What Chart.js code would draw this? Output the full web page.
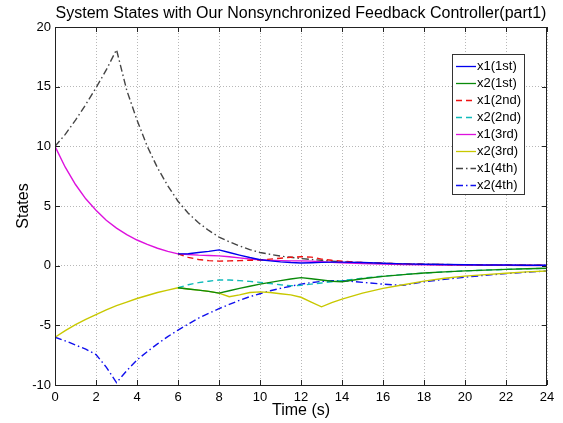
<!DOCTYPE html>
<html><head><meta charset="utf-8">
<script src="https://cdn.jsdelivr.net/npm/chart.js@4.4.1/dist/chart.umd.min.js"></script>
<style>html,body{margin:0;padding:0;background:#fff}</style>
</head><body>
<canvas id="c" width="563" height="423"></canvas>
<script>
const titleText = 'System States with Our Nonsynchronized Feedback Controller(part1)';
const xLabel = 'Time (s)';
const yLabel = 'States';
const seriesNames = ['x1(1st)','x2(1st)','x1(2nd)','x2(2nd)','x1(3rd)','x2(3rd)','x1(4th)','x2(4th)'];
const xTicksStep = 2, yTicksStep = 5;

// time grid (s)
const time = [0,0.5,1,1.5,2,2.5,3,3.5,4,4.5,5,5.5,6,6.5,7,7.5,8,8.5,9,9.5,10,10.5,11,11.5,12,12.5,13,13.5,14,15,16,17,18,19,20,21,22,23,24];
// 1st and 2nd controllers separate from the 3rd at t = 6
const timeLate = [6,6.5,7,7.5,8,8.5,9,9.5,10,10.5,11,11.5,12,12.5,13,13.5,14,15,16,17,18,19,20,21,22,23,24];

const x1_1st = [0.99,1.0,1.1,1.2,1.32,1.1,0.88,0.68,0.5,0.4,0.32,0.26,0.22,0.25,0.28,0.3,0.3,0.26,0.2,0.15,0.12,0.1,0.08,0.06,0.05,0.04,0.03];
const x2_1st = [-1.85,-1.95,-2.05,-2.15,-2.3,-2.1,-1.9,-1.72,-1.55,-1.4,-1.25,-1.12,-1.0,-1.1,-1.2,-1.3,-1.35,-1.1,-0.9,-0.75,-0.62,-0.52,-0.44,-0.37,-0.31,-0.26,-0.22];
const x1_2nd = [0.99,0.7,0.52,0.42,0.38,0.4,0.42,0.45,0.48,0.55,0.62,0.7,0.75,0.72,0.55,0.45,0.37,0.27,0.2,0.15,0.11,0.09,0.07,0.05,0.04,0.03,0.03];
const x2_2nd = [-1.85,-1.6,-1.42,-1.3,-1.2,-1.2,-1.25,-1.32,-1.4,-1.5,-1.6,-1.68,-1.65,-1.55,-1.45,-1.35,-1.25,-1.05,-0.88,-0.74,-0.62,-0.52,-0.44,-0.37,-0.31,-0.26,-0.22];
const x1_3rd = [10,8.25,6.8,5.6,4.65,3.8,3.15,2.6,2.15,1.78,1.46,1.2,0.99,0.93,0.88,0.85,0.82,0.75,0.65,0.56,0.5,0.45,0.42,0.4,0.4,0.38,0.33,0.28,0.25,0.18,0.13,0.1,0.08,0.06,0.05,0.04,0.03,0.02,0.02];
const x2_3rd = [-6,-5.45,-4.95,-4.5,-4.1,-3.7,-3.35,-3.05,-2.75,-2.5,-2.25,-2.05,-1.85,-1.95,-2.05,-2.15,-2.3,-2.6,-2.45,-2.25,-2.2,-2.25,-2.35,-2.45,-2.65,-3.05,-3.45,-3.1,-2.8,-2.3,-1.9,-1.6,-1.3,-1.05,-0.88,-0.75,-0.63,-0.52,-0.45];
const x1_4th = [10,11.0,12.2,13.5,14.9,16.4,18.1,14.7,12.2,10.0,8.2,6.7,5.4,4.4,3.6,2.95,2.4,2.0,1.65,1.35,1.1,0.95,0.8,0.7,0.6,0.52,0.45,0.38,0.32,0.25,0.2,0.16,0.13,0.1,0.08,0.07,0.06,0.05,0.04];
const x2_4th = [-6,-6.3,-6.65,-7.0,-7.45,-8.5,-9.8,-8.8,-7.9,-7.2,-6.55,-5.95,-5.4,-4.9,-4.4,-4.0,-3.6,-3.25,-2.9,-2.6,-2.35,-2.1,-1.9,-1.72,-1.55,-1.42,-1.32,-1.27,-1.25,-1.4,-1.55,-1.65,-1.35,-1.15,-0.97,-0.8,-0.67,-0.55,-0.45];

const pts = (xs, ys) => xs.map((x, i) => ({x: x, y: ys[i]}));
const DASH = [6, 4];
const DASHDOT = [7, 3, 1.5, 3];
const FONT = "'Liberation Sans', Arial, sans-serif";

const specs = [
  {label: seriesNames[0], xs: timeLate, ys: x1_1st, color: '#0000ee', dash: []},
  {label: seriesNames[1], xs: timeLate, ys: x2_1st, color: '#0a8a0a', dash: []},
  {label: seriesNames[2], xs: timeLate, ys: x1_2nd, color: '#ee1111', dash: DASH},
  {label: seriesNames[3], xs: timeLate, ys: x2_2nd, color: '#11bbbb', dash: DASH},
  {label: seriesNames[4], xs: time, ys: x1_3rd, color: '#dd11dd', dash: []},
  {label: seriesNames[5], xs: time, ys: x2_3rd, color: '#c8c800', dash: []},
  {label: seriesNames[6], xs: time, ys: x1_4th, color: '#444444', dash: DASHDOT},
  {label: seriesNames[7], xs: time, ys: x2_4th, color: '#1010ee', dash: DASHDOT}
];

const datasets = specs.map(s => ({
  label: s.label,
  data: pts(s.xs, s.ys),
  borderColor: s.color,
  backgroundColor: s.color,
  borderDash: s.dash,
  borderWidth: 1.4,
  pointRadius: 0,
  tension: 0,
  fill: false
}));

const frameTicks = {
  id: 'frameTicks',
  afterDatasetsDraw(chart) {
    const {ctx, chartArea: a, scales} = chart;
    ctx.save();
    ctx.strokeStyle = '#222';
    ctx.lineWidth = 1;
    ctx.setLineDash([]);
    ctx.strokeRect(Math.round(a.left) + 0.5, Math.round(a.top) + 0.5, Math.round(a.right - a.left) - 1, Math.round(a.bottom - a.top));
    const L = 5;
    ctx.beginPath();
    scales.x.ticks.forEach(t => {
      const px = Math.round(scales.x.getPixelForValue(t.value)) + 0.5;
      ctx.moveTo(px, a.bottom); ctx.lineTo(px, a.bottom - L);
      ctx.moveTo(px, a.top); ctx.lineTo(px, a.top + L);
    });
    scales.y.ticks.forEach(t => {
      const py = Math.round(scales.y.getPixelForValue(t.value)) + 0.5;
      ctx.moveTo(a.left, py); ctx.lineTo(a.left + L, py);
      ctx.moveTo(a.right, py); ctx.lineTo(a.right - L, py);
    });
    ctx.stroke();
    ctx.restore();
  }
};

const legendBox = {
  id: 'legendBox',
  afterDraw(chart) {
    const {ctx, chartArea: a} = chart;
    const x0 = a.right - 95, y0 = a.top + 27, w = 72, rowH = 17.05, h = 140;
    ctx.save();
    ctx.fillStyle = '#fff';
    ctx.fillRect(x0, y0, w, h);
    ctx.strokeStyle = '#333';
    ctx.lineWidth = 1;
    ctx.setLineDash([]);
    ctx.strokeRect(x0 + 0.5, y0 + 0.5, w, h);
    ctx.font = '13px ' + FONT;
    ctx.textBaseline = 'middle';
    ctx.textAlign = 'left';
    chart.data.datasets.forEach((ds, i) => {
      const cy = y0 + 11.5 + i * rowH;
      ctx.strokeStyle = ds.borderColor;
      ctx.lineWidth = 1.3;
      ctx.setLineDash(ds.borderDash || []);
      ctx.beginPath();
      ctx.moveTo(x0 + 4, Math.round(cy) + 0.5);
      ctx.lineTo(x0 + 24, Math.round(cy) + 0.5);
      ctx.stroke();
      ctx.fillStyle = '#000';
      ctx.fillText(ds.label, x0 + 25, cy + 0.5);
    });
    ctx.restore();
  }
};

new Chart(document.getElementById('c'), {
  type: 'line',
  data: {datasets: datasets},
  plugins: [frameTicks, legendBox],
  options: {
    responsive: false,
    animation: false,
    layout: {padding: {left: 0, right: 16, top: 0, bottom: 0}},
    plugins: {
      legend: {display: false},
      tooltip: {enabled: false},
      title: {
        display: true, text: titleText, fullSize: false, color: '#000',
        font: {family: FONT, size: 16, weight: 'normal'},
        padding: {top: 4, bottom: 3.8}
      }
    },
    scales: {
      x: {
        type: 'linear', min: 0, max: 24,
        ticks: {stepSize: xTicksStep, color: '#000', font: {family: FONT, size: 13}, padding: 5, maxRotation: 0, autoSkip: false},
        grid: {color: '#b8b8b8', drawTicks: false, lineWidth: 1},
        border: {display: false, dash: [1, 2]},
        title: {display: true, text: xLabel, color: '#000', font: {family: FONT, size: 16}, padding: {top: 0, bottom: 3}},
        afterFit: s => { s.height = 38; }
      },
      y: {
        type: 'linear', min: -10, max: 20,
        ticks: {stepSize: yTicksStep, color: '#000', font: {family: FONT, size: 13}, padding: 4},
        grid: {color: '#b8b8b8', drawTicks: false, lineWidth: 1},
        border: {display: false, dash: [1, 2]},
        title: {display: true, text: yLabel, color: '#000', font: {family: FONT, size: 16}, padding: {top: 14, bottom: 0}},
        afterFit: s => { s.width = 55; }
      }
    }
  }
});
</script>
</body></html>
